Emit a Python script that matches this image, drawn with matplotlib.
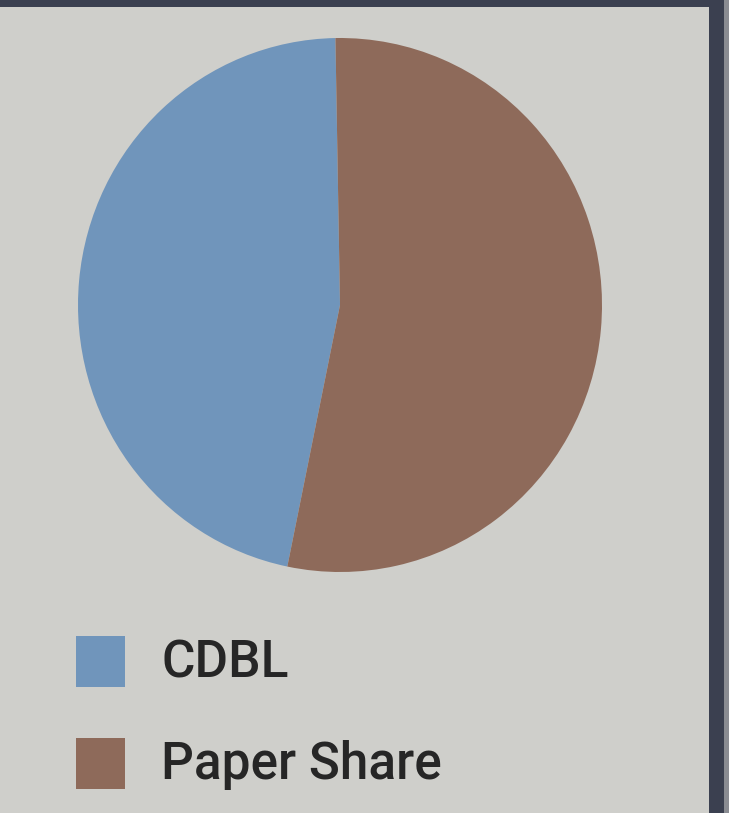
import matplotlib.pyplot as plt
from matplotlib.patches import Rectangle

# data
labels = ['CDBL', 'Paper Share']
shares = [46.5, 53.5]
colors = ['#7095bb', '#8e6a5a']

W, H = 729, 813
fig = plt.figure(figsize=(W / 100, H / 100), dpi=100)
fig.patch.set_facecolor('#cfcfcb')

plt.rcParams['font.family'] = ['Roboto', 'DejaVu Sans']

def box(x0, y0, x1, y1):
    # pixel box (top-left origin) -> figure fraction rect
    return [x0 / W, 1 - y1 / H, (x1 - x0) / W, (y1 - y0) / H]

ax = fig.add_axes(box(78, 38, 602, 572))
ax.pie(shares, colors=colors, startangle=91, counterclock=True,
       wedgeprops=dict(linewidth=0))
ax.set_aspect('auto')
ax.set_xlim(-1, 1)
ax.set_ylim(-1, 1)
ax.axis('off')

# legend, drawn by hand
y_top = [636, 738]
for lab, col, yt in zip(labels, colors, y_top):
    x0, y0, x1, y1 = box(76, yt, 125, yt + 51)
    fig.patches.append(Rectangle((x0, y0), x1, y1, transform=fig.transFigure,
                                 facecolor=col, edgecolor='none'))
    fig.text(161 / W, 1 - (yt + 41) / H, lab, fontsize=37, color='#262626',
             fontweight='medium', va='baseline', ha='left')

# frame of the printed box
fig.patches.append(Rectangle((0, 1 - 7 / H), 1, 7 / H, transform=fig.transFigure,
                             facecolor='#3b4050', edgecolor='none'))
fig.patches.append(Rectangle((709 / W, 0), 15 / W, 1, transform=fig.transFigure,
                             facecolor='#3b4050', edgecolor='none'))
fig.patches.append(Rectangle((724 / W, 0), 5 / W, 1, transform=fig.transFigure,
                             facecolor='#8a8c92', edgecolor='none'))

fig.savefig('out.png', dpi=100, facecolor=fig.get_facecolor())
